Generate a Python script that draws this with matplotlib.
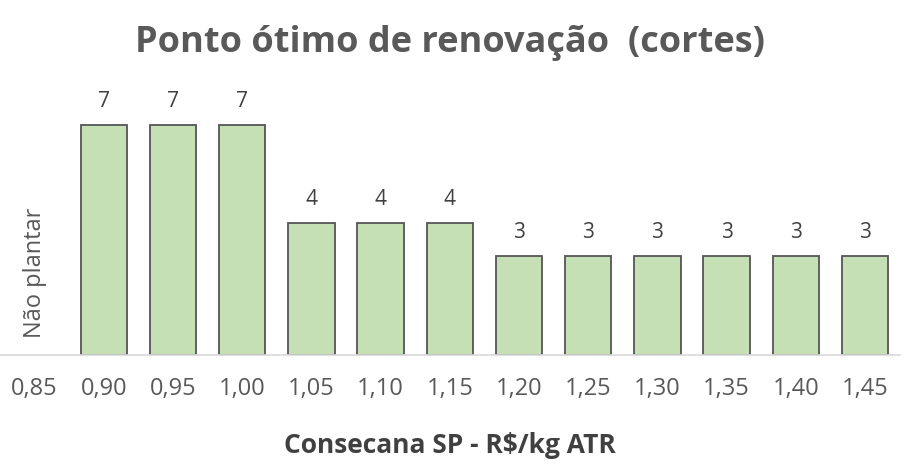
import matplotlib.pyplot as plt

categorias = ['0,85', '0,90', '0,95', '1,00', '1,05', '1,10', '1,15',
              '1,20', '1,25', '1,30', '1,35', '1,40', '1,45']
cortes = [0, 7, 7, 7, 4, 4, 4, 3, 3, 3, 3, 3, 3]

plt.rcParams['font.family'] = ['Open Sans', 'DejaVu Sans']

fig = plt.figure(figsize=(9.18, 4.74), dpi=100)
ax = fig.add_axes([0.0, 0.251, 0.98, 0.58])

x = list(range(len(categorias)))
bars = ax.bar(x[1:], cortes[1:], width=0.67, color='#c5e0b4',
              edgecolor='#555555', linewidth=1.3)

for xi, v in zip(x[1:], cortes[1:]):
    ax.text(xi, v + 0.4, str(v), ha='center', va='bottom',
            fontsize=15, color='#404040')

ax.text(x[0], 2.5, 'Não plantar', rotation=90, ha='center', va='center',
        fontsize=17, color='#595959')

ax.set_xlim(-0.5, len(categorias) - 0.5)
ax.set_ylim(0, 8.36)
ax.set_xticks(x)
ax.set_xticklabels(categorias, fontsize=17, color='#595959')
ax.tick_params(axis='x', length=0, pad=16)
ax.set_yticks([])
for s in ['top', 'right', 'left']:
    ax.spines[s].set_visible(False)
ax.spines['bottom'].set_color('#d9d9d9')
ax.spines['bottom'].set_linewidth(1.2)

ax.set_xlabel('Consecana SP - R$/kg ATR', fontsize=19, fontweight='bold',
              color='#404040', labelpad=22)
fig.text(0.49, 0.91, 'Ponto ótimo de renovação  (cortes)', ha='center',
         va='center', fontsize=26, fontweight='bold', color='#595959')

fig.savefig('out.png', dpi=100)
